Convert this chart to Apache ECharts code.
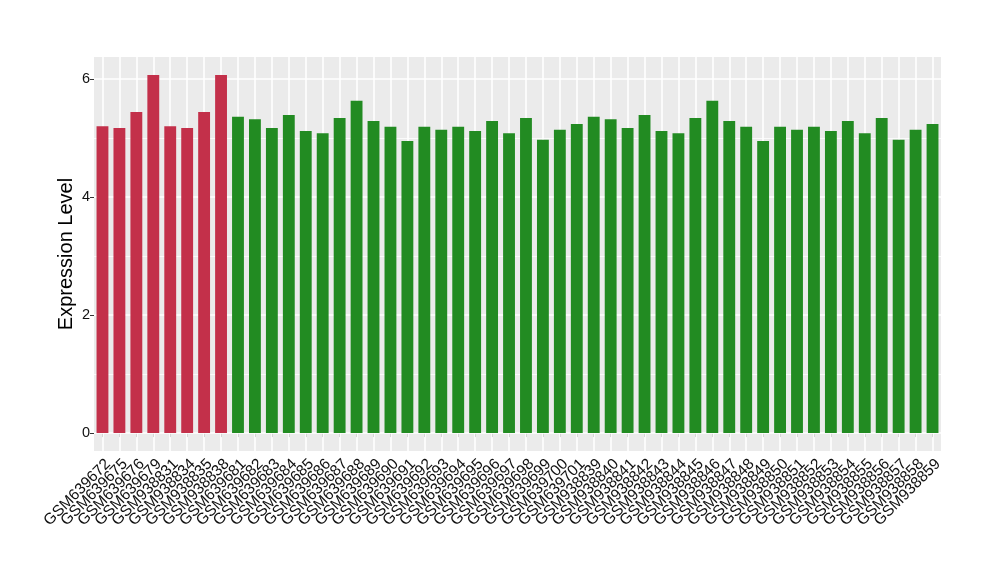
<!DOCTYPE html>
<html>
<head>
<meta charset="utf-8">
<script src="https://cdn.jsdelivr.net/npm/echarts@6/dist/echarts.min.js"></script>
<style>html,body{margin:0;padding:0;background:#fff;}#c{width:1000px;height:580px;}</style>
</head>
<body>
<div id="c"></div>
<script>
const categories = ["GSM639672","GSM639675","GSM639676","GSM639679","GSM938831","GSM938834","GSM938835","GSM938838",
"GSM639681","GSM639682","GSM639683","GSM639684","GSM639685","GSM639686","GSM639687","GSM639688","GSM639689","GSM639690",
"GSM639691","GSM639692","GSM639693","GSM639694","GSM639695","GSM639696","GSM639697","GSM639698","GSM639699","GSM639700","GSM639701",
"GSM938839","GSM938840","GSM938841","GSM938842","GSM938843","GSM938844","GSM938845","GSM938846","GSM938847","GSM938848","GSM938849",
"GSM938850","GSM938851","GSM938852","GSM938853","GSM938854","GSM938855","GSM938856","GSM938857","GSM938858","GSM938859"];
const values = [5.20,5.17,5.44,6.07,5.20,5.17,5.44,6.07,
5.36,5.32,5.17,5.39,5.12,5.08,5.34,5.63,5.29,5.19,4.95,5.19,5.14,5.19,5.12,5.29,5.08,5.34,4.97,5.14,5.24,
5.36,5.32,5.17,5.39,5.12,5.08,5.34,5.63,5.29,5.19,4.95,5.19,5.14,5.19,5.12,5.29,5.08,5.34,4.97,5.14,5.24];
const groups = ["A","A","A","A","A","A","A","A",
"B","B","B","B","B","B","B","B","B","B","B","B","B","B","B","B","B","B","B","B","B",
"B","B","B","B","B","B","B","B","B","B","B","B","B","B","B","B","B","B","B","B","B"];
const groupColors = {A:"#C3304A", B:"#228B22"};
const yTicks = [0,2,4,6];
const yMinor = [1,3,5];

const gridLines = [];
yTicks.forEach(v => gridLines.push({yAxis:v, lineStyle:{width:1.6}}));
yMinor.forEach(v => gridLines.push({yAxis:v, lineStyle:{width:0.8}}));
categories.forEach(c => gridLines.push({xAxis:c, lineStyle:{width:1.6}}));

const FONT = 'Liberation Sans, Arial, sans-serif';
const chart = echarts.init(document.getElementById('c'), null, {renderer:'canvas'});
chart.setOption({
  animation:false,
  grid:{left:94,right:59,top:57,bottom:129,show:true,backgroundColor:'#EBEBEB',borderWidth:0},
  xAxis:{type:'category',data:categories,
    axisLine:{show:false},
    axisTick:{show:true,alignWithLabel:true,length:4,lineStyle:{color:'#333',width:1}},
    axisLabel:{rotate:45,interval:0,fontSize:15.5,color:'#111',margin:5,verticalAlign:'top',fontFamily:FONT},
    splitLine:{show:false}},
  yAxis:{type:'value',min:-0.3035,max:6.3735,
    name:'Expression Level',nameLocation:'middle',nameGap:18,nameMoveOverlap:false,
    nameTextStyle:{fontSize:20,color:'#000',fontFamily:FONT},
    axisLine:{show:false},
    axisTick:{show:true,length:4,customValues:yTicks,lineStyle:{color:'#333',width:1}},
    axisLabel:{customValues:yTicks,fontSize:14.5,color:'#111',margin:4,fontFamily:FONT},
    splitLine:{show:false}},
  series:[
    {type:'line',data:[],silent:true,
     markLine:{silent:true,z:1,symbol:['none','none'],label:{show:false},
       lineStyle:{color:'#ffffff',type:'solid'},emphasis:{disabled:true},data:gridLines}},
    {type:'bar',z:2,barWidth:'70%',
     data:values.map((v,i)=>({value:v,itemStyle:{color:groupColors[groups[i]]}}))}
  ]
});
</script>
</body>
</html>
